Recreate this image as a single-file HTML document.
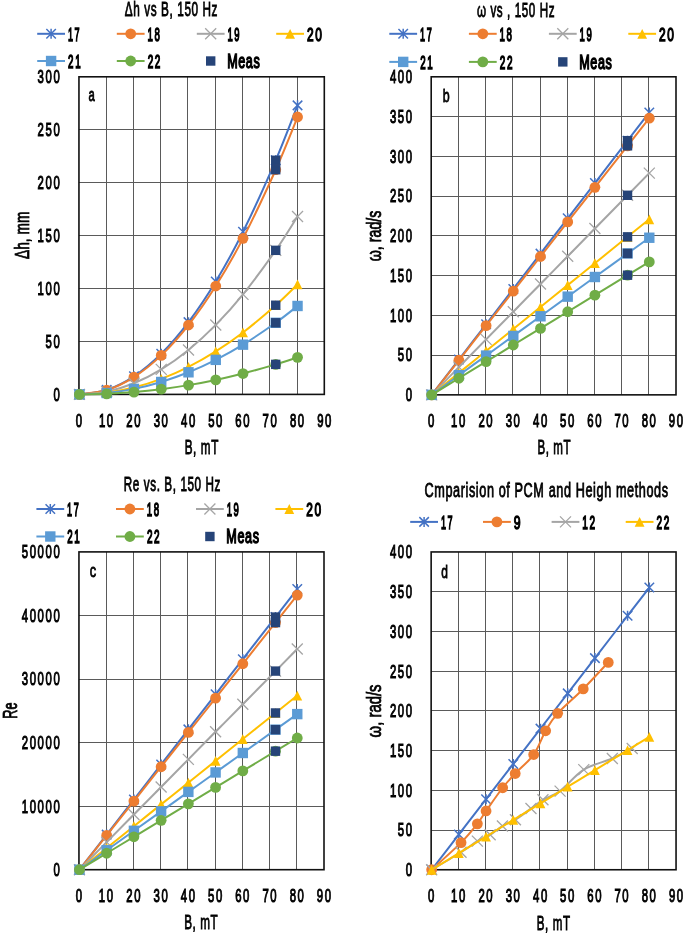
<!DOCTYPE html>
<html><head><meta charset="utf-8"><style>
html,body{margin:0;padding:0;background:#fff;}
svg{display:block;will-change:transform;}
text{font-family:"Liberation Sans",sans-serif;font-weight:normal;stroke:#000;stroke-width:0.9px;vector-effect:non-scaling-stroke;}
text.t{stroke-width:0.7px;}
text.l{stroke-width:1.2px;}
</style></head><body>
<svg width="685" height="936" viewBox="0 0 685 936">
<rect width="685" height="936" fill="#fff"/>
<g>
<path d="M106.50,76.80V394.40M133.50,76.80V394.40M160.50,76.80V394.40M187.50,76.80V394.40M215.50,76.80V394.40M242.50,76.80V394.40M269.50,76.80V394.40M297.50,76.80V394.40M78.95,341.50H324.30M78.95,288.50H324.30M78.95,235.50H324.30M78.95,182.50H324.30M78.95,129.50H324.30" stroke="#5a5a5a" stroke-width="1.0" fill="none"/>
<rect x="78.95" y="76.80" width="245.35" height="317.60" stroke="#111" stroke-width="1.6" fill="none"/>
<path d="M79.45,394.40 C83.99,393.65 97.62,392.89 106.71,389.88 C115.80,386.87 124.89,382.36 133.97,376.33 C143.06,370.31 152.15,362.79 161.23,353.75 C170.32,344.72 179.41,334.18 188.49,322.14 C197.58,310.10 206.67,296.55 215.76,281.49 C224.84,266.44 233.02,252.02 243.02,231.81 C253.01,211.61 266.64,181.35 275.73,160.28 C284.82,139.20 293.90,114.51 297.54,105.36" stroke="#4472C4" stroke-width="2.0" fill="none" stroke-linejoin="round"/>
<path d="M74.70,389.65L84.20,399.15M84.20,389.65L74.70,399.15M79.45,389.40L79.45,399.40" stroke="#4472C4" stroke-width="1.5" fill="none"/>
<path d="M101.96,385.13L111.46,394.63M111.46,385.13L101.96,394.63M106.71,384.88L106.71,394.88" stroke="#4472C4" stroke-width="1.5" fill="none"/>
<path d="M129.22,371.58L138.72,381.08M138.72,371.58L129.22,381.08M133.97,371.33L133.97,381.33" stroke="#4472C4" stroke-width="1.5" fill="none"/>
<path d="M156.48,349.00L165.98,358.50M165.98,349.00L156.48,358.50M161.23,348.75L161.23,358.75" stroke="#4472C4" stroke-width="1.5" fill="none"/>
<path d="M183.74,317.39L193.24,326.89M193.24,317.39L183.74,326.89M188.49,317.14L188.49,327.14" stroke="#4472C4" stroke-width="1.5" fill="none"/>
<path d="M211.01,276.74L220.51,286.24M220.51,276.74L211.01,286.24M215.76,276.49L215.76,286.49" stroke="#4472C4" stroke-width="1.5" fill="none"/>
<path d="M238.27,227.06L247.77,236.56M247.77,227.06L238.27,236.56M243.02,226.81L243.02,236.81" stroke="#4472C4" stroke-width="1.5" fill="none"/>
<path d="M270.98,155.53L280.48,165.03M280.48,155.53L270.98,165.03M275.73,155.28L275.73,165.28" stroke="#4472C4" stroke-width="1.5" fill="none"/>
<path d="M292.79,100.61L302.29,110.11M302.29,100.61L292.79,110.11M297.54,100.36L297.54,110.36" stroke="#4472C4" stroke-width="1.5" fill="none"/>
<path d="M79.45,394.40 C83.99,393.68 97.62,392.96 106.71,390.07 C115.80,387.18 124.89,382.84 133.97,377.06 C143.06,371.28 152.15,364.06 161.23,355.39 C170.32,346.72 179.41,336.61 188.49,325.05 C197.58,313.50 206.67,300.49 215.76,286.05 C224.84,271.60 233.02,257.76 243.02,238.37 C253.01,218.98 266.64,189.94 275.73,169.72 C284.82,149.49 293.90,125.80 297.54,117.01" stroke="#ED7D31" stroke-width="2.0" fill="none" stroke-linejoin="round"/>
<circle cx="79.45" cy="394.40" r="5.40" fill="#ED7D31"/>
<circle cx="106.71" cy="390.07" r="5.40" fill="#ED7D31"/>
<circle cx="133.97" cy="377.06" r="5.40" fill="#ED7D31"/>
<circle cx="161.23" cy="355.39" r="5.40" fill="#ED7D31"/>
<circle cx="188.49" cy="325.05" r="5.40" fill="#ED7D31"/>
<circle cx="215.76" cy="286.05" r="5.40" fill="#ED7D31"/>
<circle cx="243.02" cy="238.37" r="5.40" fill="#ED7D31"/>
<circle cx="275.73" cy="169.72" r="5.40" fill="#ED7D31"/>
<circle cx="297.54" cy="117.01" r="5.40" fill="#ED7D31"/>
<path d="M79.45,394.40 C83.99,393.94 97.62,393.47 106.71,391.62 C115.80,389.77 124.89,386.99 133.97,383.28 C143.06,379.58 152.15,374.95 161.23,369.39 C170.32,363.83 179.41,357.35 188.49,349.94 C197.58,342.53 206.67,334.19 215.76,324.92 C224.84,315.66 233.02,306.79 243.02,294.36 C253.01,281.92 266.64,263.31 275.73,250.34 C284.82,237.37 293.90,222.18 297.54,216.54" stroke="#A5A5A5" stroke-width="2.0" fill="none" stroke-linejoin="round"/>
<path d="M73.95,388.90L84.95,399.90M84.95,388.90L73.95,399.90" stroke="#A5A5A5" stroke-width="1.3" fill="none"/>
<path d="M101.21,386.12L112.21,397.12M112.21,386.12L101.21,397.12" stroke="#A5A5A5" stroke-width="1.3" fill="none"/>
<path d="M128.47,377.78L139.47,388.78M139.47,377.78L128.47,388.78" stroke="#A5A5A5" stroke-width="1.3" fill="none"/>
<path d="M155.73,363.89L166.73,374.89M166.73,363.89L155.73,374.89" stroke="#A5A5A5" stroke-width="1.3" fill="none"/>
<path d="M182.99,344.44L193.99,355.44M193.99,344.44L182.99,355.44" stroke="#A5A5A5" stroke-width="1.3" fill="none"/>
<path d="M210.26,319.42L221.26,330.42M221.26,319.42L210.26,330.42" stroke="#A5A5A5" stroke-width="1.3" fill="none"/>
<path d="M237.52,288.86L248.52,299.86M248.52,288.86L237.52,299.86" stroke="#A5A5A5" stroke-width="1.3" fill="none"/>
<path d="M270.23,244.84L281.23,255.84M281.23,244.84L270.23,255.84" stroke="#A5A5A5" stroke-width="1.3" fill="none"/>
<path d="M292.04,211.04L303.04,222.04M303.04,211.04L292.04,222.04" stroke="#A5A5A5" stroke-width="1.3" fill="none"/>
<path d="M79.45,394.40 C83.99,394.11 97.62,393.83 106.71,392.68 C115.80,391.53 124.89,389.81 133.97,387.52 C143.06,385.22 152.15,382.36 161.23,378.92 C170.32,375.48 179.41,371.46 188.49,366.87 C197.58,362.29 206.67,357.13 215.76,351.39 C224.84,345.66 233.02,340.16 243.02,332.47 C253.01,324.77 266.64,313.25 275.73,305.22 C284.82,297.19 293.90,287.79 297.54,284.30" stroke="#FFC000" stroke-width="2.0" fill="none" stroke-linejoin="round"/>
<path d="M79.45,389.50L84.35,399.30L74.55,399.30Z" fill="#FFC000"/>
<path d="M106.71,387.78L111.61,397.58L101.81,397.58Z" fill="#FFC000"/>
<path d="M133.97,382.62L138.87,392.42L129.07,392.42Z" fill="#FFC000"/>
<path d="M161.23,374.02L166.13,383.82L156.33,383.82Z" fill="#FFC000"/>
<path d="M188.49,361.97L193.39,371.77L183.59,371.77Z" fill="#FFC000"/>
<path d="M215.76,346.49L220.66,356.29L210.86,356.29Z" fill="#FFC000"/>
<path d="M243.02,327.57L247.92,337.37L238.12,337.37Z" fill="#FFC000"/>
<path d="M275.73,300.32L280.63,310.12L270.83,310.12Z" fill="#FFC000"/>
<path d="M297.54,279.40L302.44,289.20L292.64,289.20Z" fill="#FFC000"/>
<path d="M79.45,394.40 C83.99,394.17 97.62,393.94 106.71,393.02 C115.80,392.10 124.89,390.72 133.97,388.87 C143.06,387.03 152.15,384.73 161.23,381.97 C170.32,379.20 179.41,375.98 188.49,372.30 C197.58,368.61 206.67,364.47 215.76,359.86 C224.84,355.26 233.02,350.84 243.02,344.66 C253.01,338.48 266.64,329.23 275.73,322.78 C284.82,316.33 293.90,308.78 297.54,305.98" stroke="#5B9BD5" stroke-width="2.0" fill="none" stroke-linejoin="round"/>
<rect x="74.25" y="389.20" width="10.40" height="10.40" fill="#5B9BD5"/>
<rect x="101.51" y="387.82" width="10.40" height="10.40" fill="#5B9BD5"/>
<rect x="128.77" y="383.67" width="10.40" height="10.40" fill="#5B9BD5"/>
<rect x="156.03" y="376.77" width="10.40" height="10.40" fill="#5B9BD5"/>
<rect x="183.29" y="367.10" width="10.40" height="10.40" fill="#5B9BD5"/>
<rect x="210.56" y="354.66" width="10.40" height="10.40" fill="#5B9BD5"/>
<rect x="237.82" y="339.46" width="10.40" height="10.40" fill="#5B9BD5"/>
<rect x="270.53" y="317.58" width="10.40" height="10.40" fill="#5B9BD5"/>
<rect x="292.34" y="300.78" width="10.40" height="10.40" fill="#5B9BD5"/>
<path d="M79.45,394.40 C83.99,394.30 97.62,394.21 106.71,393.82 C115.80,393.43 124.89,392.86 133.97,392.08 C143.06,391.31 152.15,390.35 161.23,389.19 C170.32,388.03 179.41,386.68 188.49,385.13 C197.58,383.59 206.67,381.85 215.76,379.92 C224.84,377.99 233.02,376.14 243.02,373.55 C253.01,370.96 266.64,367.08 275.73,364.38 C284.82,361.68 293.90,358.51 297.54,357.34" stroke="#70AD47" stroke-width="2.0" fill="none" stroke-linejoin="round"/>
<circle cx="79.45" cy="394.40" r="5.40" fill="#70AD47"/>
<circle cx="106.71" cy="393.82" r="5.40" fill="#70AD47"/>
<circle cx="133.97" cy="392.08" r="5.40" fill="#70AD47"/>
<circle cx="161.23" cy="389.19" r="5.40" fill="#70AD47"/>
<circle cx="188.49" cy="385.13" r="5.40" fill="#70AD47"/>
<circle cx="215.76" cy="379.92" r="5.40" fill="#70AD47"/>
<circle cx="243.02" cy="373.55" r="5.40" fill="#70AD47"/>
<circle cx="275.73" cy="364.38" r="5.40" fill="#70AD47"/>
<circle cx="297.54" cy="357.34" r="5.40" fill="#70AD47"/>
<rect x="271.03" y="155.58" width="9.40" height="9.40" fill="#264478"/>
<rect x="271.03" y="165.02" width="9.40" height="9.40" fill="#264478"/>
<rect x="271.03" y="245.64" width="9.40" height="9.40" fill="#264478"/>
<rect x="271.03" y="300.52" width="9.40" height="9.40" fill="#264478"/>
<rect x="271.03" y="318.08" width="9.40" height="9.40" fill="#264478"/>
<rect x="271.03" y="359.68" width="9.40" height="9.40" fill="#264478"/>
<text letter-spacing="2.667" transform="translate(53.43,400.80) scale(0.6000,1)" font-size="18.9" fill="#000">0</text>
<text letter-spacing="2.667" transform="translate(45.54,347.87) scale(0.6000,1)" font-size="18.9" fill="#000">50</text>
<text letter-spacing="2.667" transform="translate(37.62,294.93) scale(0.6000,1)" font-size="18.9" fill="#000">100</text>
<text letter-spacing="2.667" transform="translate(37.62,242.00) scale(0.6000,1)" font-size="18.9" fill="#000">150</text>
<text letter-spacing="2.667" transform="translate(37.62,189.07) scale(0.6000,1)" font-size="18.9" fill="#000">200</text>
<text letter-spacing="2.667" transform="translate(37.62,136.13) scale(0.6000,1)" font-size="18.9" fill="#000">250</text>
<text letter-spacing="2.667" transform="translate(37.62,83.20) scale(0.6000,1)" font-size="18.9" fill="#000">300</text>
<text letter-spacing="2.667" transform="translate(75.79,426.70) scale(0.6000,1)" font-size="18.9" fill="#000">0</text>
<text letter-spacing="2.667" transform="translate(98.90,426.70) scale(0.6000,1)" font-size="18.9" fill="#000">10</text>
<text letter-spacing="2.667" transform="translate(126.31,426.70) scale(0.6000,1)" font-size="18.9" fill="#000">20</text>
<text letter-spacing="2.667" transform="translate(153.64,426.70) scale(0.6000,1)" font-size="18.9" fill="#000">30</text>
<text letter-spacing="2.667" transform="translate(180.99,426.70) scale(0.6000,1)" font-size="18.9" fill="#000">40</text>
<text letter-spacing="2.667" transform="translate(208.15,426.70) scale(0.6000,1)" font-size="18.9" fill="#000">50</text>
<text letter-spacing="2.667" transform="translate(235.35,426.70) scale(0.6000,1)" font-size="18.9" fill="#000">60</text>
<text letter-spacing="2.667" transform="translate(262.61,426.70) scale(0.6000,1)" font-size="18.9" fill="#000">70</text>
<text letter-spacing="2.667" transform="translate(289.92,426.70) scale(0.6000,1)" font-size="18.9" fill="#000">80</text>
<text letter-spacing="2.667" transform="translate(317.15,426.70) scale(0.6000,1)" font-size="18.9" fill="#000">90</text>
<path d="M458.50,76.80V394.85M485.50,76.80V394.85M512.50,76.80V394.85M540.50,76.80V394.85M567.50,76.80V394.85M594.50,76.80V394.85M621.50,76.80V394.85M648.50,76.80V394.85M431.20,355.50H676.00M431.20,315.50H676.00M431.20,275.50H676.00M431.20,235.50H676.00M431.20,196.50H676.00M431.20,156.50H676.00M431.20,116.50H676.00" stroke="#5a5a5a" stroke-width="1.0" fill="none"/>
<rect x="431.20" y="76.80" width="244.80" height="318.05" stroke="#111" stroke-width="1.6" fill="none"/>
<path d="M431.70,394.85 C436.23,388.97 449.83,371.31 458.90,359.55 C467.97,347.78 477.03,336.01 486.10,324.24 C495.17,312.48 504.23,300.71 513.30,288.94 C522.37,277.17 531.43,265.40 540.50,253.64 C549.57,241.87 558.63,230.10 567.70,218.33 C576.77,206.56 584.93,195.97 594.90,183.03 C604.87,170.08 618.47,152.43 627.54,140.66 C636.61,128.90 645.67,117.13 649.30,112.42" stroke="#4472C4" stroke-width="2.0" fill="none" stroke-linejoin="round"/>
<path d="M426.95,390.10L436.45,399.60M436.45,390.10L426.95,399.60M431.70,389.85L431.70,399.85" stroke="#4472C4" stroke-width="1.5" fill="none"/>
<path d="M454.15,354.80L463.65,364.30M463.65,354.80L454.15,364.30M458.90,354.55L458.90,364.55" stroke="#4472C4" stroke-width="1.5" fill="none"/>
<path d="M481.35,319.49L490.85,328.99M490.85,319.49L481.35,328.99M486.10,319.24L486.10,329.24" stroke="#4472C4" stroke-width="1.5" fill="none"/>
<path d="M508.55,284.19L518.05,293.69M518.05,284.19L508.55,293.69M513.30,283.94L513.30,293.94" stroke="#4472C4" stroke-width="1.5" fill="none"/>
<path d="M535.75,248.89L545.25,258.39M545.25,248.89L535.75,258.39M540.50,248.64L540.50,258.64" stroke="#4472C4" stroke-width="1.5" fill="none"/>
<path d="M562.95,213.58L572.45,223.08M572.45,213.58L562.95,223.08M567.70,213.33L567.70,223.33" stroke="#4472C4" stroke-width="1.5" fill="none"/>
<path d="M590.15,178.28L599.65,187.78M599.65,178.28L590.15,187.78M594.90,178.03L594.90,188.03" stroke="#4472C4" stroke-width="1.5" fill="none"/>
<path d="M622.79,135.91L632.29,145.41M632.29,135.91L622.79,145.41M627.54,135.66L627.54,145.66" stroke="#4472C4" stroke-width="1.5" fill="none"/>
<path d="M644.55,107.67L654.05,117.17M654.05,107.67L644.55,117.17M649.30,107.42L649.30,117.42" stroke="#4472C4" stroke-width="1.5" fill="none"/>
<path d="M431.70,394.85 C436.23,389.09 449.83,371.79 458.90,360.26 C467.97,348.73 477.03,337.20 486.10,325.67 C495.17,314.14 504.23,302.62 513.30,291.09 C522.37,279.56 531.43,268.03 540.50,256.50 C549.57,244.97 558.63,233.44 567.70,221.91 C576.77,210.38 584.93,200.00 594.90,187.32 C604.87,174.64 618.47,157.35 627.54,145.82 C636.61,134.29 645.67,122.76 649.30,118.15" stroke="#ED7D31" stroke-width="2.0" fill="none" stroke-linejoin="round"/>
<circle cx="431.70" cy="394.85" r="5.40" fill="#ED7D31"/>
<circle cx="458.90" cy="360.26" r="5.40" fill="#ED7D31"/>
<circle cx="486.10" cy="325.67" r="5.40" fill="#ED7D31"/>
<circle cx="513.30" cy="291.09" r="5.40" fill="#ED7D31"/>
<circle cx="540.50" cy="256.50" r="5.40" fill="#ED7D31"/>
<circle cx="567.70" cy="221.91" r="5.40" fill="#ED7D31"/>
<circle cx="594.90" cy="187.32" r="5.40" fill="#ED7D31"/>
<circle cx="627.54" cy="145.82" r="5.40" fill="#ED7D31"/>
<circle cx="649.30" cy="118.15" r="5.40" fill="#ED7D31"/>
<path d="M431.70,394.85 C436.23,390.23 449.83,376.37 458.90,367.13 C467.97,357.89 477.03,348.65 486.10,339.41 C495.17,330.17 504.23,320.94 513.30,311.70 C522.37,302.46 531.43,293.22 540.50,283.98 C549.57,274.74 558.63,265.50 567.70,256.26 C576.77,247.02 584.93,238.70 594.90,228.54 C604.87,218.38 618.47,204.52 627.54,195.28 C636.61,186.04 645.67,176.80 649.30,173.11" stroke="#A5A5A5" stroke-width="2.0" fill="none" stroke-linejoin="round"/>
<path d="M426.20,389.35L437.20,400.35M437.20,389.35L426.20,400.35" stroke="#A5A5A5" stroke-width="1.3" fill="none"/>
<path d="M453.40,361.63L464.40,372.63M464.40,361.63L453.40,372.63" stroke="#A5A5A5" stroke-width="1.3" fill="none"/>
<path d="M480.60,333.91L491.60,344.91M491.60,333.91L480.60,344.91" stroke="#A5A5A5" stroke-width="1.3" fill="none"/>
<path d="M507.80,306.20L518.80,317.20M518.80,306.20L507.80,317.20" stroke="#A5A5A5" stroke-width="1.3" fill="none"/>
<path d="M535.00,278.48L546.00,289.48M546.00,278.48L535.00,289.48" stroke="#A5A5A5" stroke-width="1.3" fill="none"/>
<path d="M562.20,250.76L573.20,261.76M573.20,250.76L562.20,261.76" stroke="#A5A5A5" stroke-width="1.3" fill="none"/>
<path d="M589.40,223.04L600.40,234.04M600.40,223.04L589.40,234.04" stroke="#A5A5A5" stroke-width="1.3" fill="none"/>
<path d="M622.04,189.78L633.04,200.78M633.04,189.78L622.04,200.78" stroke="#A5A5A5" stroke-width="1.3" fill="none"/>
<path d="M643.80,167.61L654.80,178.61M654.80,167.61L643.80,178.61" stroke="#A5A5A5" stroke-width="1.3" fill="none"/>
<path d="M431.70,394.85 C436.23,391.19 449.83,380.22 458.90,372.90 C467.97,365.59 477.03,358.27 486.10,350.96 C495.17,343.64 504.23,336.33 513.30,329.01 C522.37,321.70 531.43,314.38 540.50,307.07 C549.57,299.75 558.63,292.44 567.70,285.12 C576.77,277.81 584.93,271.22 594.90,263.18 C604.87,255.13 618.47,244.16 627.54,236.84 C636.61,229.53 645.67,222.21 649.30,219.29" stroke="#FFC000" stroke-width="2.0" fill="none" stroke-linejoin="round"/>
<path d="M431.70,389.95L436.60,399.75L426.80,399.75Z" fill="#FFC000"/>
<path d="M458.90,368.00L463.80,377.80L454.00,377.80Z" fill="#FFC000"/>
<path d="M486.10,346.06L491.00,355.86L481.20,355.86Z" fill="#FFC000"/>
<path d="M513.30,324.11L518.20,333.91L508.40,333.91Z" fill="#FFC000"/>
<path d="M540.50,302.17L545.40,311.97L535.60,311.97Z" fill="#FFC000"/>
<path d="M567.70,280.22L572.60,290.02L562.80,290.02Z" fill="#FFC000"/>
<path d="M594.90,258.28L599.80,268.08L590.00,268.08Z" fill="#FFC000"/>
<path d="M627.54,231.94L632.44,241.74L622.64,241.74Z" fill="#FFC000"/>
<path d="M649.30,214.39L654.20,224.19L644.40,224.19Z" fill="#FFC000"/>
<path d="M431.70,394.85 C436.23,391.58 449.83,381.76 458.90,375.21 C467.97,368.66 477.03,362.12 486.10,355.57 C495.17,349.02 504.23,342.48 513.30,335.93 C522.37,329.38 531.43,322.84 540.50,316.29 C549.57,309.75 558.63,303.20 567.70,296.65 C576.77,290.11 584.93,284.21 594.90,277.01 C604.87,269.81 618.47,259.99 627.54,253.44 C636.61,246.90 645.67,240.35 649.30,237.73" stroke="#5B9BD5" stroke-width="2.0" fill="none" stroke-linejoin="round"/>
<rect x="426.50" y="389.65" width="10.40" height="10.40" fill="#5B9BD5"/>
<rect x="453.70" y="370.01" width="10.40" height="10.40" fill="#5B9BD5"/>
<rect x="480.90" y="350.37" width="10.40" height="10.40" fill="#5B9BD5"/>
<rect x="508.10" y="330.73" width="10.40" height="10.40" fill="#5B9BD5"/>
<rect x="535.30" y="311.09" width="10.40" height="10.40" fill="#5B9BD5"/>
<rect x="562.50" y="291.45" width="10.40" height="10.40" fill="#5B9BD5"/>
<rect x="589.70" y="271.81" width="10.40" height="10.40" fill="#5B9BD5"/>
<rect x="622.34" y="248.24" width="10.40" height="10.40" fill="#5B9BD5"/>
<rect x="644.10" y="232.53" width="10.40" height="10.40" fill="#5B9BD5"/>
<path d="M431.70,394.85 C436.23,392.08 449.83,383.77 458.90,378.23 C467.97,372.69 477.03,367.15 486.10,361.61 C495.17,356.07 504.23,350.54 513.30,345.00 C522.37,339.46 531.43,333.92 540.50,328.38 C549.57,322.84 558.63,317.30 567.70,311.76 C576.77,306.22 584.93,301.23 594.90,295.14 C604.87,289.05 618.47,280.74 627.54,275.20 C636.61,269.66 645.67,264.12 649.30,261.91" stroke="#70AD47" stroke-width="2.0" fill="none" stroke-linejoin="round"/>
<circle cx="431.70" cy="394.85" r="5.40" fill="#70AD47"/>
<circle cx="458.90" cy="378.23" r="5.40" fill="#70AD47"/>
<circle cx="486.10" cy="361.61" r="5.40" fill="#70AD47"/>
<circle cx="513.30" cy="345.00" r="5.40" fill="#70AD47"/>
<circle cx="540.50" cy="328.38" r="5.40" fill="#70AD47"/>
<circle cx="567.70" cy="311.76" r="5.40" fill="#70AD47"/>
<circle cx="594.90" cy="295.14" r="5.40" fill="#70AD47"/>
<circle cx="627.54" cy="275.20" r="5.40" fill="#70AD47"/>
<circle cx="649.30" cy="261.91" r="5.40" fill="#70AD47"/>
<rect x="622.84" y="135.96" width="9.40" height="9.40" fill="#264478"/>
<rect x="622.84" y="141.12" width="9.40" height="9.40" fill="#264478"/>
<rect x="622.84" y="190.58" width="9.40" height="9.40" fill="#264478"/>
<rect x="622.84" y="232.14" width="9.40" height="9.40" fill="#264478"/>
<rect x="622.84" y="248.74" width="9.40" height="9.40" fill="#264478"/>
<rect x="622.84" y="270.50" width="9.40" height="9.40" fill="#264478"/>
<text letter-spacing="2.667" transform="translate(405.73,401.25) scale(0.6000,1)" font-size="18.9" fill="#000">0</text>
<text letter-spacing="2.667" transform="translate(397.84,361.49) scale(0.6000,1)" font-size="18.9" fill="#000">50</text>
<text letter-spacing="2.667" transform="translate(389.92,321.74) scale(0.6000,1)" font-size="18.9" fill="#000">100</text>
<text letter-spacing="2.667" transform="translate(389.92,281.98) scale(0.6000,1)" font-size="18.9" fill="#000">150</text>
<text letter-spacing="2.667" transform="translate(389.92,242.23) scale(0.6000,1)" font-size="18.9" fill="#000">200</text>
<text letter-spacing="2.667" transform="translate(389.92,202.47) scale(0.6000,1)" font-size="18.9" fill="#000">250</text>
<text letter-spacing="2.667" transform="translate(389.92,162.71) scale(0.6000,1)" font-size="18.9" fill="#000">300</text>
<text letter-spacing="2.667" transform="translate(389.92,122.96) scale(0.6000,1)" font-size="18.9" fill="#000">350</text>
<text letter-spacing="2.667" transform="translate(389.92,83.20) scale(0.6000,1)" font-size="18.9" fill="#000">400</text>
<text letter-spacing="2.667" transform="translate(428.04,426.70) scale(0.6000,1)" font-size="18.9" fill="#000">0</text>
<text letter-spacing="2.667" transform="translate(451.09,426.70) scale(0.6000,1)" font-size="18.9" fill="#000">10</text>
<text letter-spacing="2.667" transform="translate(478.44,426.70) scale(0.6000,1)" font-size="18.9" fill="#000">20</text>
<text letter-spacing="2.667" transform="translate(505.71,426.70) scale(0.6000,1)" font-size="18.9" fill="#000">30</text>
<text letter-spacing="2.667" transform="translate(532.99,426.70) scale(0.6000,1)" font-size="18.9" fill="#000">40</text>
<text letter-spacing="2.667" transform="translate(560.09,426.70) scale(0.6000,1)" font-size="18.9" fill="#000">50</text>
<text letter-spacing="2.667" transform="translate(587.24,426.70) scale(0.6000,1)" font-size="18.9" fill="#000">60</text>
<text letter-spacing="2.667" transform="translate(614.44,426.70) scale(0.6000,1)" font-size="18.9" fill="#000">70</text>
<text letter-spacing="2.667" transform="translate(641.68,426.70) scale(0.6000,1)" font-size="18.9" fill="#000">80</text>
<text letter-spacing="2.667" transform="translate(668.85,426.70) scale(0.6000,1)" font-size="18.9" fill="#000">90</text>
<path d="M106.50,551.90V869.70M133.50,551.90V869.70M160.50,551.90V869.70M187.50,551.90V869.70M215.50,551.90V869.70M242.50,551.90V869.70M269.50,551.90V869.70M296.50,551.90V869.70M78.95,806.50H324.00M78.95,742.50H324.00M78.95,679.50H324.00M78.95,615.50H324.00" stroke="#5a5a5a" stroke-width="1.0" fill="none"/>
<rect x="78.95" y="551.90" width="245.05" height="317.80" stroke="#111" stroke-width="1.6" fill="none"/>
<path d="M79.45,869.70 C83.99,863.85 97.60,846.31 106.68,834.61 C115.75,822.92 124.83,811.22 133.91,799.53 C142.98,787.83 152.06,776.14 161.13,764.44 C170.21,752.75 179.29,741.05 188.36,729.36 C197.44,717.66 206.51,705.97 215.59,694.27 C224.66,682.58 232.83,672.05 242.82,659.19 C252.80,646.32 266.41,628.78 275.49,617.09 C284.57,605.39 293.64,593.70 297.27,589.02" stroke="#4472C4" stroke-width="2.0" fill="none" stroke-linejoin="round"/>
<path d="M74.70,864.95L84.20,874.45M84.20,864.95L74.70,874.45M79.45,864.70L79.45,874.70" stroke="#4472C4" stroke-width="1.5" fill="none"/>
<path d="M101.93,829.86L111.43,839.36M111.43,829.86L101.93,839.36M106.68,829.61L106.68,839.61" stroke="#4472C4" stroke-width="1.5" fill="none"/>
<path d="M129.16,794.78L138.66,804.28M138.66,794.78L129.16,804.28M133.91,794.53L133.91,804.53" stroke="#4472C4" stroke-width="1.5" fill="none"/>
<path d="M156.38,759.69L165.88,769.19M165.88,759.69L156.38,769.19M161.13,759.44L161.13,769.44" stroke="#4472C4" stroke-width="1.5" fill="none"/>
<path d="M183.61,724.61L193.11,734.11M193.11,724.61L183.61,734.11M188.36,724.36L188.36,734.36" stroke="#4472C4" stroke-width="1.5" fill="none"/>
<path d="M210.84,689.52L220.34,699.02M220.34,689.52L210.84,699.02M215.59,689.27L215.59,699.27" stroke="#4472C4" stroke-width="1.5" fill="none"/>
<path d="M238.07,654.44L247.57,663.94M247.57,654.44L238.07,663.94M242.82,654.19L242.82,664.19" stroke="#4472C4" stroke-width="1.5" fill="none"/>
<path d="M270.74,612.34L280.24,621.84M280.24,612.34L270.74,621.84M275.49,612.09L275.49,622.09" stroke="#4472C4" stroke-width="1.5" fill="none"/>
<path d="M292.52,584.27L302.02,593.77M302.02,584.27L292.52,593.77M297.27,584.02L297.27,594.02" stroke="#4472C4" stroke-width="1.5" fill="none"/>
<path d="M79.45,869.70 C83.99,863.98 97.60,846.82 106.68,835.38 C115.75,823.94 124.83,812.50 133.91,801.06 C142.98,789.61 152.06,778.17 161.13,766.73 C170.21,755.29 179.29,743.85 188.36,732.41 C197.44,720.97 206.51,709.53 215.59,698.09 C224.66,686.65 232.83,676.35 242.82,663.77 C252.80,651.18 266.41,634.02 275.49,622.58 C284.57,611.14 293.64,599.70 297.27,595.12" stroke="#ED7D31" stroke-width="2.0" fill="none" stroke-linejoin="round"/>
<circle cx="79.45" cy="869.70" r="5.40" fill="#ED7D31"/>
<circle cx="106.68" cy="835.38" r="5.40" fill="#ED7D31"/>
<circle cx="133.91" cy="801.06" r="5.40" fill="#ED7D31"/>
<circle cx="161.13" cy="766.73" r="5.40" fill="#ED7D31"/>
<circle cx="188.36" cy="732.41" r="5.40" fill="#ED7D31"/>
<circle cx="215.59" cy="698.09" r="5.40" fill="#ED7D31"/>
<circle cx="242.82" cy="663.77" r="5.40" fill="#ED7D31"/>
<circle cx="275.49" cy="622.58" r="5.40" fill="#ED7D31"/>
<circle cx="297.27" cy="595.12" r="5.40" fill="#ED7D31"/>
<path d="M79.45,869.70 C83.99,865.10 97.60,851.31 106.68,842.11 C115.75,832.92 124.83,823.72 133.91,814.53 C142.98,805.33 152.06,796.14 161.13,786.94 C170.21,777.75 179.29,768.55 188.36,759.36 C197.44,750.16 206.51,740.97 215.59,731.77 C224.66,722.58 232.83,714.30 242.82,704.19 C252.80,694.08 266.41,680.28 275.49,671.09 C284.57,661.89 293.64,652.70 297.27,649.02" stroke="#A5A5A5" stroke-width="2.0" fill="none" stroke-linejoin="round"/>
<path d="M73.95,864.20L84.95,875.20M84.95,864.20L73.95,875.20" stroke="#A5A5A5" stroke-width="1.3" fill="none"/>
<path d="M101.18,836.61L112.18,847.61M112.18,836.61L101.18,847.61" stroke="#A5A5A5" stroke-width="1.3" fill="none"/>
<path d="M128.41,809.03L139.41,820.03M139.41,809.03L128.41,820.03" stroke="#A5A5A5" stroke-width="1.3" fill="none"/>
<path d="M155.63,781.44L166.63,792.44M166.63,781.44L155.63,792.44" stroke="#A5A5A5" stroke-width="1.3" fill="none"/>
<path d="M182.86,753.86L193.86,764.86M193.86,753.86L182.86,764.86" stroke="#A5A5A5" stroke-width="1.3" fill="none"/>
<path d="M210.09,726.27L221.09,737.27M221.09,726.27L210.09,737.27" stroke="#A5A5A5" stroke-width="1.3" fill="none"/>
<path d="M237.32,698.69L248.32,709.69M248.32,698.69L237.32,709.69" stroke="#A5A5A5" stroke-width="1.3" fill="none"/>
<path d="M269.99,665.59L280.99,676.59M280.99,665.59L269.99,676.59" stroke="#A5A5A5" stroke-width="1.3" fill="none"/>
<path d="M291.77,643.52L302.77,654.52M302.77,643.52L291.77,654.52" stroke="#A5A5A5" stroke-width="1.3" fill="none"/>
<path d="M79.45,869.70 C83.99,866.07 97.60,855.19 106.68,847.93 C115.75,840.67 124.83,833.42 133.91,826.16 C142.98,818.90 152.06,811.65 161.13,804.39 C170.21,797.14 179.29,789.88 188.36,782.62 C197.44,775.37 206.51,768.11 215.59,760.85 C224.66,753.60 232.83,747.07 242.82,739.08 C252.80,731.10 266.41,720.22 275.49,712.96 C284.57,705.70 293.64,698.45 297.27,695.55" stroke="#FFC000" stroke-width="2.0" fill="none" stroke-linejoin="round"/>
<path d="M79.45,864.80L84.35,874.60L74.55,874.60Z" fill="#FFC000"/>
<path d="M106.68,843.03L111.58,852.83L101.78,852.83Z" fill="#FFC000"/>
<path d="M133.91,821.26L138.81,831.06L129.01,831.06Z" fill="#FFC000"/>
<path d="M161.13,799.49L166.03,809.29L156.23,809.29Z" fill="#FFC000"/>
<path d="M188.36,777.72L193.26,787.52L183.46,787.52Z" fill="#FFC000"/>
<path d="M215.59,755.95L220.49,765.75L210.69,765.75Z" fill="#FFC000"/>
<path d="M242.82,734.18L247.72,743.98L237.92,743.98Z" fill="#FFC000"/>
<path d="M275.49,708.06L280.39,717.86L270.59,717.86Z" fill="#FFC000"/>
<path d="M297.27,690.65L302.17,700.45L292.37,700.45Z" fill="#FFC000"/>
<path d="M79.45,869.70 C83.99,866.46 97.60,856.73 106.68,850.25 C115.75,843.77 124.83,837.28 133.91,830.80 C142.98,824.32 152.06,817.84 161.13,811.35 C170.21,804.87 179.29,798.39 188.36,791.90 C197.44,785.42 206.51,778.94 215.59,772.45 C224.66,765.97 232.83,760.14 242.82,753.00 C252.80,745.87 266.41,736.15 275.49,729.66 C284.57,723.18 293.64,716.70 297.27,714.11" stroke="#5B9BD5" stroke-width="2.0" fill="none" stroke-linejoin="round"/>
<rect x="74.25" y="864.50" width="10.40" height="10.40" fill="#5B9BD5"/>
<rect x="101.48" y="845.05" width="10.40" height="10.40" fill="#5B9BD5"/>
<rect x="128.71" y="825.60" width="10.40" height="10.40" fill="#5B9BD5"/>
<rect x="155.93" y="806.15" width="10.40" height="10.40" fill="#5B9BD5"/>
<rect x="183.16" y="786.70" width="10.40" height="10.40" fill="#5B9BD5"/>
<rect x="210.39" y="767.25" width="10.40" height="10.40" fill="#5B9BD5"/>
<rect x="237.62" y="747.80" width="10.40" height="10.40" fill="#5B9BD5"/>
<rect x="270.29" y="724.46" width="10.40" height="10.40" fill="#5B9BD5"/>
<rect x="292.07" y="708.91" width="10.40" height="10.40" fill="#5B9BD5"/>
<path d="M79.45,869.70 C83.99,866.96 97.60,858.73 106.68,853.24 C115.75,847.75 124.83,842.26 133.91,836.78 C142.98,831.29 152.06,825.80 161.13,820.31 C170.21,814.83 179.29,809.34 188.36,803.85 C197.44,798.36 206.51,792.88 215.59,787.39 C224.66,781.90 232.83,776.96 242.82,770.93 C252.80,764.89 266.41,756.66 275.49,751.17 C284.57,745.69 293.64,740.20 297.27,738.00" stroke="#70AD47" stroke-width="2.0" fill="none" stroke-linejoin="round"/>
<circle cx="79.45" cy="869.70" r="5.40" fill="#70AD47"/>
<circle cx="106.68" cy="853.24" r="5.40" fill="#70AD47"/>
<circle cx="133.91" cy="836.78" r="5.40" fill="#70AD47"/>
<circle cx="161.13" cy="820.31" r="5.40" fill="#70AD47"/>
<circle cx="188.36" cy="803.85" r="5.40" fill="#70AD47"/>
<circle cx="215.59" cy="787.39" r="5.40" fill="#70AD47"/>
<circle cx="242.82" cy="770.93" r="5.40" fill="#70AD47"/>
<circle cx="275.49" cy="751.17" r="5.40" fill="#70AD47"/>
<circle cx="297.27" cy="738.00" r="5.40" fill="#70AD47"/>
<rect x="270.79" y="612.39" width="9.40" height="9.40" fill="#264478"/>
<rect x="270.79" y="617.88" width="9.40" height="9.40" fill="#264478"/>
<rect x="270.79" y="666.39" width="9.40" height="9.40" fill="#264478"/>
<rect x="270.79" y="708.26" width="9.40" height="9.40" fill="#264478"/>
<rect x="270.79" y="724.96" width="9.40" height="9.40" fill="#264478"/>
<rect x="270.79" y="746.47" width="9.40" height="9.40" fill="#264478"/>
<text letter-spacing="2.667" transform="translate(53.43,876.10) scale(0.6000,1)" font-size="18.9" fill="#000">0</text>
<text letter-spacing="2.667" transform="translate(21.80,812.54) scale(0.6000,1)" font-size="18.9" fill="#000">10000</text>
<text letter-spacing="2.667" transform="translate(21.80,748.98) scale(0.6000,1)" font-size="18.9" fill="#000">20000</text>
<text letter-spacing="2.667" transform="translate(21.80,685.42) scale(0.6000,1)" font-size="18.9" fill="#000">30000</text>
<text letter-spacing="2.667" transform="translate(21.80,621.86) scale(0.6000,1)" font-size="18.9" fill="#000">40000</text>
<text letter-spacing="2.667" transform="translate(21.80,558.30) scale(0.6000,1)" font-size="18.9" fill="#000">50000</text>
<text letter-spacing="2.667" transform="translate(75.79,901.90) scale(0.6000,1)" font-size="18.9" fill="#000">0</text>
<text letter-spacing="2.667" transform="translate(98.87,901.90) scale(0.6000,1)" font-size="18.9" fill="#000">10</text>
<text letter-spacing="2.667" transform="translate(126.24,901.90) scale(0.6000,1)" font-size="18.9" fill="#000">20</text>
<text letter-spacing="2.667" transform="translate(153.54,901.90) scale(0.6000,1)" font-size="18.9" fill="#000">30</text>
<text letter-spacing="2.667" transform="translate(180.85,901.90) scale(0.6000,1)" font-size="18.9" fill="#000">40</text>
<text letter-spacing="2.667" transform="translate(207.98,901.90) scale(0.6000,1)" font-size="18.9" fill="#000">50</text>
<text letter-spacing="2.667" transform="translate(235.15,901.90) scale(0.6000,1)" font-size="18.9" fill="#000">60</text>
<text letter-spacing="2.667" transform="translate(262.38,901.90) scale(0.6000,1)" font-size="18.9" fill="#000">70</text>
<text letter-spacing="2.667" transform="translate(289.65,901.90) scale(0.6000,1)" font-size="18.9" fill="#000">80</text>
<text letter-spacing="2.667" transform="translate(316.85,901.90) scale(0.6000,1)" font-size="18.9" fill="#000">90</text>
<path d="M458.50,551.95V869.75M485.50,551.95V869.75M512.50,551.95V869.75M539.50,551.95V869.75M567.50,551.95V869.75M594.50,551.95V869.75M621.50,551.95V869.75M648.50,551.95V869.75M431.15,830.50H676.05M431.15,790.50H676.05M431.15,750.50H676.05M431.15,710.50H676.05M431.15,671.50H676.05M431.15,631.50H676.05M431.15,591.50H676.05" stroke="#5a5a5a" stroke-width="1.0" fill="none"/>
<rect x="431.15" y="551.95" width="244.90" height="317.80" stroke="#111" stroke-width="1.6" fill="none"/>
<path d="M431.65,869.75 C436.19,863.87 449.79,846.23 458.86,834.47 C467.93,822.72 477.00,810.96 486.07,799.20 C495.14,787.44 504.21,775.68 513.28,763.92 C522.35,752.16 531.42,740.41 540.49,728.65 C549.56,716.89 558.64,705.13 567.71,693.37 C576.78,681.61 584.94,671.03 594.92,658.10 C604.89,645.16 618.50,627.52 627.57,615.76 C636.64,604.01 645.71,592.25 649.34,587.54" stroke="#4472C4" stroke-width="2.0" fill="none" stroke-linejoin="round"/>
<path d="M426.90,865.00L436.40,874.50M436.40,865.00L426.90,874.50M431.65,864.75L431.65,874.75" stroke="#4472C4" stroke-width="1.5" fill="none"/>
<path d="M454.11,829.72L463.61,839.22M463.61,829.72L454.11,839.22M458.86,829.47L458.86,839.47" stroke="#4472C4" stroke-width="1.5" fill="none"/>
<path d="M481.32,794.45L490.82,803.95M490.82,794.45L481.32,803.95M486.07,794.20L486.07,804.20" stroke="#4472C4" stroke-width="1.5" fill="none"/>
<path d="M508.53,759.17L518.03,768.67M518.03,759.17L508.53,768.67M513.28,758.92L513.28,768.92" stroke="#4472C4" stroke-width="1.5" fill="none"/>
<path d="M535.74,723.90L545.24,733.40M545.24,723.90L535.74,733.40M540.49,723.65L540.49,733.65" stroke="#4472C4" stroke-width="1.5" fill="none"/>
<path d="M562.96,688.62L572.46,698.12M572.46,688.62L562.96,698.12M567.71,688.37L567.71,698.37" stroke="#4472C4" stroke-width="1.5" fill="none"/>
<path d="M590.17,653.35L599.67,662.85M599.67,653.35L590.17,662.85M594.92,653.10L594.92,663.10" stroke="#4472C4" stroke-width="1.5" fill="none"/>
<path d="M622.82,611.01L632.32,620.51M632.32,611.01L622.82,620.51M627.57,610.76L627.57,620.76" stroke="#4472C4" stroke-width="1.5" fill="none"/>
<path d="M644.59,582.79L654.09,592.29M654.09,582.79L644.59,592.29M649.34,582.54L649.34,592.54" stroke="#4472C4" stroke-width="1.5" fill="none"/>
<path d="M431.65,869.75 C436.55,865.23 453.42,850.31 461.04,842.66 C468.66,835.00 473.19,829.11 477.36,823.83 C481.54,818.54 481.85,816.97 486.07,810.96 C490.29,804.95 497.82,793.99 502.67,787.76 C507.52,781.52 510.02,779.07 515.19,773.54 C520.36,768.00 528.61,761.67 533.69,754.55 C538.77,747.42 541.67,737.66 545.66,730.79 C549.66,723.92 551.38,720.29 557.64,713.31 C563.90,706.33 574.78,697.41 583.22,688.92 C591.65,680.43 604.08,666.81 608.25,662.39" stroke="#ED7D31" stroke-width="2.0" fill="none" stroke-linejoin="round"/>
<circle cx="431.65" cy="869.75" r="5.40" fill="#ED7D31"/>
<circle cx="461.04" cy="842.66" r="5.40" fill="#ED7D31"/>
<circle cx="477.36" cy="823.83" r="5.40" fill="#ED7D31"/>
<circle cx="486.07" cy="810.96" r="5.40" fill="#ED7D31"/>
<circle cx="502.67" cy="787.76" r="5.40" fill="#ED7D31"/>
<circle cx="515.19" cy="773.54" r="5.40" fill="#ED7D31"/>
<circle cx="533.69" cy="754.55" r="5.40" fill="#ED7D31"/>
<circle cx="545.66" cy="730.79" r="5.40" fill="#ED7D31"/>
<circle cx="557.64" cy="713.31" r="5.40" fill="#ED7D31"/>
<circle cx="583.22" cy="688.92" r="5.40" fill="#ED7D31"/>
<circle cx="608.25" cy="662.39" r="5.40" fill="#ED7D31"/>
<path d="M431.65,869.75 C436.55,866.84 453.42,857.04 461.04,852.27 C468.66,847.50 472.51,844.06 477.36,841.15 C482.22,838.23 485.98,837.31 490.15,834.79 C494.33,832.28 498.18,828.57 502.40,826.05 C506.62,823.54 510.70,822.61 515.46,819.70 C520.22,816.78 526.39,811.88 530.97,808.57 C535.55,805.26 538.09,802.75 542.94,799.83 C547.80,796.92 553.28,796.13 560.09,791.09 C566.89,786.06 575.05,775.07 583.76,769.64 C592.47,764.21 604.26,762.04 612.33,758.52 C620.40,755.00 628.89,750.18 632.20,748.51" stroke="#A5A5A5" stroke-width="2.0" fill="none" stroke-linejoin="round"/>
<path d="M426.15,864.25L437.15,875.25M437.15,864.25L426.15,875.25" stroke="#A5A5A5" stroke-width="1.3" fill="none"/>
<path d="M455.54,846.77L466.54,857.77M466.54,846.77L455.54,857.77" stroke="#A5A5A5" stroke-width="1.3" fill="none"/>
<path d="M471.86,835.65L482.86,846.65M482.86,835.65L471.86,846.65" stroke="#A5A5A5" stroke-width="1.3" fill="none"/>
<path d="M484.65,829.29L495.65,840.29M495.65,829.29L484.65,840.29" stroke="#A5A5A5" stroke-width="1.3" fill="none"/>
<path d="M496.90,820.55L507.90,831.55M507.90,820.55L496.90,831.55" stroke="#A5A5A5" stroke-width="1.3" fill="none"/>
<path d="M509.96,814.20L520.96,825.20M520.96,814.20L509.96,825.20" stroke="#A5A5A5" stroke-width="1.3" fill="none"/>
<path d="M525.47,803.07L536.47,814.07M536.47,803.07L525.47,814.07" stroke="#A5A5A5" stroke-width="1.3" fill="none"/>
<path d="M537.44,794.33L548.44,805.33M548.44,794.33L537.44,805.33" stroke="#A5A5A5" stroke-width="1.3" fill="none"/>
<path d="M554.59,785.59L565.59,796.59M565.59,785.59L554.59,796.59" stroke="#A5A5A5" stroke-width="1.3" fill="none"/>
<path d="M578.26,764.14L589.26,775.14M589.26,764.14L578.26,775.14" stroke="#A5A5A5" stroke-width="1.3" fill="none"/>
<path d="M606.83,753.02L617.83,764.02M617.83,753.02L606.83,764.02" stroke="#A5A5A5" stroke-width="1.3" fill="none"/>
<path d="M626.70,743.01L637.70,754.01M637.70,743.01L626.70,754.01" stroke="#A5A5A5" stroke-width="1.3" fill="none"/>
<path d="M431.65,869.75 C436.19,866.98 449.79,858.68 458.86,853.14 C467.93,847.61 477.00,842.07 486.07,836.54 C495.14,831.00 504.21,825.47 513.28,819.93 C522.35,814.40 531.42,808.86 540.49,803.33 C549.56,797.79 558.64,792.26 567.71,786.72 C576.78,781.19 584.94,776.21 594.92,770.12 C604.89,764.03 618.50,755.73 627.57,750.19 C636.64,744.66 645.71,739.12 649.34,736.91" stroke="#FFC000" stroke-width="2.0" fill="none" stroke-linejoin="round"/>
<path d="M431.65,864.85L436.55,874.65L426.75,874.65Z" fill="#FFC000"/>
<path d="M458.86,848.24L463.76,858.04L453.96,858.04Z" fill="#FFC000"/>
<path d="M486.07,831.64L490.97,841.44L481.17,841.44Z" fill="#FFC000"/>
<path d="M513.28,815.03L518.18,824.83L508.38,824.83Z" fill="#FFC000"/>
<path d="M540.49,798.43L545.39,808.23L535.59,808.23Z" fill="#FFC000"/>
<path d="M567.71,781.82L572.61,791.62L562.81,791.62Z" fill="#FFC000"/>
<path d="M594.92,765.22L599.82,775.02L590.02,775.02Z" fill="#FFC000"/>
<path d="M627.57,745.29L632.47,755.09L622.67,755.09Z" fill="#FFC000"/>
<path d="M649.34,732.01L654.24,741.81L644.44,741.81Z" fill="#FFC000"/>
<text letter-spacing="2.667" transform="translate(405.73,876.15) scale(0.6000,1)" font-size="18.9" fill="#000">0</text>
<text letter-spacing="2.667" transform="translate(397.84,836.42) scale(0.6000,1)" font-size="18.9" fill="#000">50</text>
<text letter-spacing="2.667" transform="translate(389.92,796.70) scale(0.6000,1)" font-size="18.9" fill="#000">100</text>
<text letter-spacing="2.667" transform="translate(389.92,756.98) scale(0.6000,1)" font-size="18.9" fill="#000">150</text>
<text letter-spacing="2.667" transform="translate(389.92,717.25) scale(0.6000,1)" font-size="18.9" fill="#000">200</text>
<text letter-spacing="2.667" transform="translate(389.92,677.52) scale(0.6000,1)" font-size="18.9" fill="#000">250</text>
<text letter-spacing="2.667" transform="translate(389.92,637.80) scale(0.6000,1)" font-size="18.9" fill="#000">300</text>
<text letter-spacing="2.667" transform="translate(389.92,598.07) scale(0.6000,1)" font-size="18.9" fill="#000">350</text>
<text letter-spacing="2.667" transform="translate(389.92,558.35) scale(0.6000,1)" font-size="18.9" fill="#000">400</text>
<text letter-spacing="2.667" transform="translate(427.99,901.90) scale(0.6000,1)" font-size="18.9" fill="#000">0</text>
<text letter-spacing="2.667" transform="translate(451.05,901.90) scale(0.6000,1)" font-size="18.9" fill="#000">10</text>
<text letter-spacing="2.667" transform="translate(478.41,901.90) scale(0.6000,1)" font-size="18.9" fill="#000">20</text>
<text letter-spacing="2.667" transform="translate(505.69,901.90) scale(0.6000,1)" font-size="18.9" fill="#000">30</text>
<text letter-spacing="2.667" transform="translate(532.99,901.90) scale(0.6000,1)" font-size="18.9" fill="#000">40</text>
<text letter-spacing="2.667" transform="translate(560.10,901.90) scale(0.6000,1)" font-size="18.9" fill="#000">50</text>
<text letter-spacing="2.667" transform="translate(587.25,901.90) scale(0.6000,1)" font-size="18.9" fill="#000">60</text>
<text letter-spacing="2.667" transform="translate(614.46,901.90) scale(0.6000,1)" font-size="18.9" fill="#000">70</text>
<text letter-spacing="2.667" transform="translate(641.72,901.90) scale(0.6000,1)" font-size="18.9" fill="#000">80</text>
<text letter-spacing="2.667" transform="translate(668.90,901.90) scale(0.6000,1)" font-size="18.9" fill="#000">90</text>
<path d="M37.20,33.80H65.00" stroke="#4472C4" stroke-width="2.0"/>
<path d="M46.35,29.05L55.85,38.55M55.85,29.05L46.35,38.55M51.10,28.80L51.10,38.80" stroke="#4472C4" stroke-width="1.5" fill="none"/>
<text class="l" letter-spacing="3.347" transform="translate(67.92,40.50) scale(0.4781,1)" font-size="18.9" fill="#000">17</text>
<path d="M116.80,33.80H144.60" stroke="#ED7D31" stroke-width="2.0"/>
<circle cx="130.70" cy="33.80" r="5.40" fill="#ED7D31"/>
<text class="l" letter-spacing="3.126" transform="translate(147.47,40.50) scale(0.5118,1)" font-size="18.9" fill="#000">18</text>
<path d="M196.80,33.80H224.60" stroke="#A5A5A5" stroke-width="2.0"/>
<path d="M205.20,28.30L216.20,39.30M216.20,28.30L205.20,39.30" stroke="#A5A5A5" stroke-width="1.3" fill="none"/>
<text class="l" letter-spacing="3.185" transform="translate(227.49,40.50) scale(0.5024,1)" font-size="18.9" fill="#000">19</text>
<path d="M276.20,33.80H304.00" stroke="#FFC000" stroke-width="2.0"/>
<path d="M290.10,28.90L295.00,38.70L285.20,38.70Z" fill="#FFC000"/>
<text class="l" letter-spacing="2.534" transform="translate(307.00,40.50) scale(0.6313,1)" font-size="18.9" fill="#000">20</text>
<path d="M37.20,61.00H65.00" stroke="#5B9BD5" stroke-width="2.0"/>
<rect x="45.90" y="55.80" width="10.40" height="10.40" fill="#5B9BD5"/>
<text class="l" letter-spacing="3.093" transform="translate(68.11,67.70) scale(0.5173,1)" font-size="18.9" fill="#000">21</text>
<path d="M116.80,61.00H144.60" stroke="#70AD47" stroke-width="2.0"/>
<circle cx="130.70" cy="61.00" r="5.40" fill="#70AD47"/>
<text class="l" letter-spacing="3.024" transform="translate(147.70,67.70) scale(0.5291,1)" font-size="18.9" fill="#000">22</text>
<rect x="206.00" y="56.30" width="9.40" height="9.40" fill="#264478"/>
<text class="l" letter-spacing="0.920" transform="translate(227.16,67.70) scale(0.6523,1)" font-size="19.3" fill="#000">Meas</text>
<path d="M389.30,33.80H417.10" stroke="#4472C4" stroke-width="2.0"/>
<path d="M398.45,29.05L407.95,38.55M407.95,29.05L398.45,38.55M403.20,28.80L403.20,38.80" stroke="#4472C4" stroke-width="1.5" fill="none"/>
<text class="l" letter-spacing="3.347" transform="translate(420.02,40.50) scale(0.4781,1)" font-size="18.9" fill="#000">17</text>
<path d="M468.90,33.80H496.70" stroke="#ED7D31" stroke-width="2.0"/>
<circle cx="482.80" cy="33.80" r="5.40" fill="#ED7D31"/>
<text class="l" letter-spacing="3.126" transform="translate(499.57,40.50) scale(0.5118,1)" font-size="18.9" fill="#000">18</text>
<path d="M548.90,33.80H576.70" stroke="#A5A5A5" stroke-width="2.0"/>
<path d="M557.30,28.30L568.30,39.30M568.30,28.30L557.30,39.30" stroke="#A5A5A5" stroke-width="1.3" fill="none"/>
<text class="l" letter-spacing="3.185" transform="translate(579.59,40.50) scale(0.5024,1)" font-size="18.9" fill="#000">19</text>
<path d="M628.30,33.80H656.10" stroke="#FFC000" stroke-width="2.0"/>
<path d="M642.20,28.90L647.10,38.70L637.30,38.70Z" fill="#FFC000"/>
<text class="l" letter-spacing="2.534" transform="translate(659.10,40.50) scale(0.6313,1)" font-size="18.9" fill="#000">20</text>
<path d="M389.30,61.90H417.10" stroke="#5B9BD5" stroke-width="2.0"/>
<rect x="398.00" y="56.70" width="10.40" height="10.40" fill="#5B9BD5"/>
<text class="l" letter-spacing="3.093" transform="translate(420.21,68.60) scale(0.5173,1)" font-size="18.9" fill="#000">21</text>
<path d="M468.90,61.90H496.70" stroke="#70AD47" stroke-width="2.0"/>
<circle cx="482.80" cy="61.90" r="5.40" fill="#70AD47"/>
<text class="l" letter-spacing="3.024" transform="translate(499.80,68.60) scale(0.5291,1)" font-size="18.9" fill="#000">22</text>
<rect x="558.10" y="57.20" width="9.40" height="9.40" fill="#264478"/>
<text class="l" letter-spacing="0.920" transform="translate(579.26,68.60) scale(0.6523,1)" font-size="19.3" fill="#000">Meas</text>
<path d="M36.40,509.00H64.20" stroke="#4472C4" stroke-width="2.0"/>
<path d="M45.55,504.25L55.05,513.75M55.05,504.25L45.55,513.75M50.30,504.00L50.30,514.00" stroke="#4472C4" stroke-width="1.5" fill="none"/>
<text class="l" letter-spacing="3.347" transform="translate(67.12,515.70) scale(0.4781,1)" font-size="18.9" fill="#000">17</text>
<path d="M116.00,509.00H143.80" stroke="#ED7D31" stroke-width="2.0"/>
<circle cx="129.90" cy="509.00" r="5.40" fill="#ED7D31"/>
<text class="l" letter-spacing="3.126" transform="translate(146.67,515.70) scale(0.5118,1)" font-size="18.9" fill="#000">18</text>
<path d="M196.00,509.00H223.80" stroke="#A5A5A5" stroke-width="2.0"/>
<path d="M204.40,503.50L215.40,514.50M215.40,503.50L204.40,514.50" stroke="#A5A5A5" stroke-width="1.3" fill="none"/>
<text class="l" letter-spacing="3.185" transform="translate(226.69,515.70) scale(0.5024,1)" font-size="18.9" fill="#000">19</text>
<path d="M275.40,509.00H303.20" stroke="#FFC000" stroke-width="2.0"/>
<path d="M289.30,504.10L294.20,513.90L284.40,513.90Z" fill="#FFC000"/>
<text class="l" letter-spacing="2.534" transform="translate(306.20,515.70) scale(0.6313,1)" font-size="18.9" fill="#000">20</text>
<path d="M36.40,536.50H64.20" stroke="#5B9BD5" stroke-width="2.0"/>
<rect x="45.10" y="531.30" width="10.40" height="10.40" fill="#5B9BD5"/>
<text class="l" letter-spacing="3.093" transform="translate(67.31,543.20) scale(0.5173,1)" font-size="18.9" fill="#000">21</text>
<path d="M116.00,536.50H143.80" stroke="#70AD47" stroke-width="2.0"/>
<circle cx="129.90" cy="536.50" r="5.40" fill="#70AD47"/>
<text class="l" letter-spacing="3.024" transform="translate(146.90,543.20) scale(0.5291,1)" font-size="18.9" fill="#000">22</text>
<rect x="205.20" y="531.80" width="9.40" height="9.40" fill="#264478"/>
<text class="l" letter-spacing="0.920" transform="translate(226.36,543.20) scale(0.6523,1)" font-size="19.3" fill="#000">Meas</text>
<path d="M410.20,521.90H438.00" stroke="#4472C4" stroke-width="2.0"/>
<path d="M419.35,517.15L428.85,526.65M428.85,517.15L419.35,526.65M424.10,516.90L424.10,526.90" stroke="#4472C4" stroke-width="1.5" fill="none"/>
<text class="l" letter-spacing="3.347" transform="translate(440.92,528.60) scale(0.4781,1)" font-size="18.9" fill="#000">17</text>
<path d="M483.00,521.90H510.80" stroke="#ED7D31" stroke-width="2.0"/>
<circle cx="496.90" cy="521.90" r="5.40" fill="#ED7D31"/>
<text class="l" letter-spacing="2.454" transform="translate(513.81,528.60) scale(0.6521,1)" font-size="18.9" fill="#000">9</text>
<path d="M551.60,521.90H579.40" stroke="#A5A5A5" stroke-width="2.0"/>
<path d="M560.00,516.40L571.00,527.40M571.00,516.40L560.00,527.40" stroke="#A5A5A5" stroke-width="1.3" fill="none"/>
<text class="l" letter-spacing="3.009" transform="translate(582.25,528.60) scale(0.5318,1)" font-size="18.9" fill="#000">12</text>
<path d="M625.70,521.90H653.50" stroke="#FFC000" stroke-width="2.0"/>
<path d="M639.60,517.00L644.50,526.80L634.70,526.80Z" fill="#FFC000"/>
<text class="l" letter-spacing="3.024" transform="translate(656.60,528.60) scale(0.5291,1)" font-size="18.9" fill="#000">22</text>
<text class="t" letter-spacing="0.984" transform="translate(124.80,16.30) scale(0.6095,1)" font-size="19.3" fill="#000">Δh vs B, 150 Hz</text>
<text class="t" letter-spacing="0.995" transform="translate(476.88,16.60) scale(0.6032,1)" font-size="19.3" fill="#000">ω vs , 150 Hz</text>
<text class="t" letter-spacing="0.990" transform="translate(123.79,491.10) scale(0.6060,1)" font-size="19.3" fill="#000">Re vs. B, 150 Hz</text>
<text class="t" letter-spacing="0.913" transform="translate(424.52,496.90) scale(0.6569,1)" font-size="19.3" fill="#000">Cmparision of PCM and Heigh methods</text>
<text class="t" letter-spacing="0.988" transform="translate(184.68,453.70) scale(0.6072,1)" font-size="19.3" fill="#000">B, mT</text>
<text class="t" letter-spacing="1.002" transform="translate(537.40,454.00) scale(0.5991,1)" font-size="19.3" fill="#000">B, mT</text>
<text class="t" letter-spacing="0.991" transform="translate(184.19,929.10) scale(0.6052,1)" font-size="19.3" fill="#000">B, mT</text>
<text class="t" letter-spacing="0.998" transform="translate(536.69,930.20) scale(0.6011,1)" font-size="19.3" fill="#000">B, mT</text>
<text class="t" transform="translate(29.20,258.96) rotate(-90) scale(0.7130,1)" font-size="19.3" fill="#000">Δh, mm</text>
<text class="t" transform="translate(380.50,261.22) rotate(-90) scale(0.7359,1)" font-size="19.3" fill="#000">ω, rad/s</text>
<text class="t" transform="translate(17.30,718.70) rotate(-90) scale(0.6609,1)" font-size="19.3" fill="#000">Re</text>
<text class="t" transform="translate(380.50,737.45) rotate(-90) scale(0.7716,1)" font-size="19.3" fill="#000">ω, rad/s</text>
<text class="t" letter-spacing="0.938" transform="translate(88.57,101.00) scale(0.6399,1)" font-size="17.6" fill="#000">a</text>
<text class="t" letter-spacing="0.849" transform="translate(442.64,102.00) scale(0.7071,1)" font-size="17.6" fill="#000">b</text>
<text class="t" letter-spacing="0.826" transform="translate(89.81,576.60) scale(0.7267,1)" font-size="17.6" fill="#000">c</text>
<text class="t" letter-spacing="0.880" transform="translate(441.14,578.00) scale(0.6818,1)" font-size="17.6" fill="#000">d</text>
</g>
</svg>
</body></html>
